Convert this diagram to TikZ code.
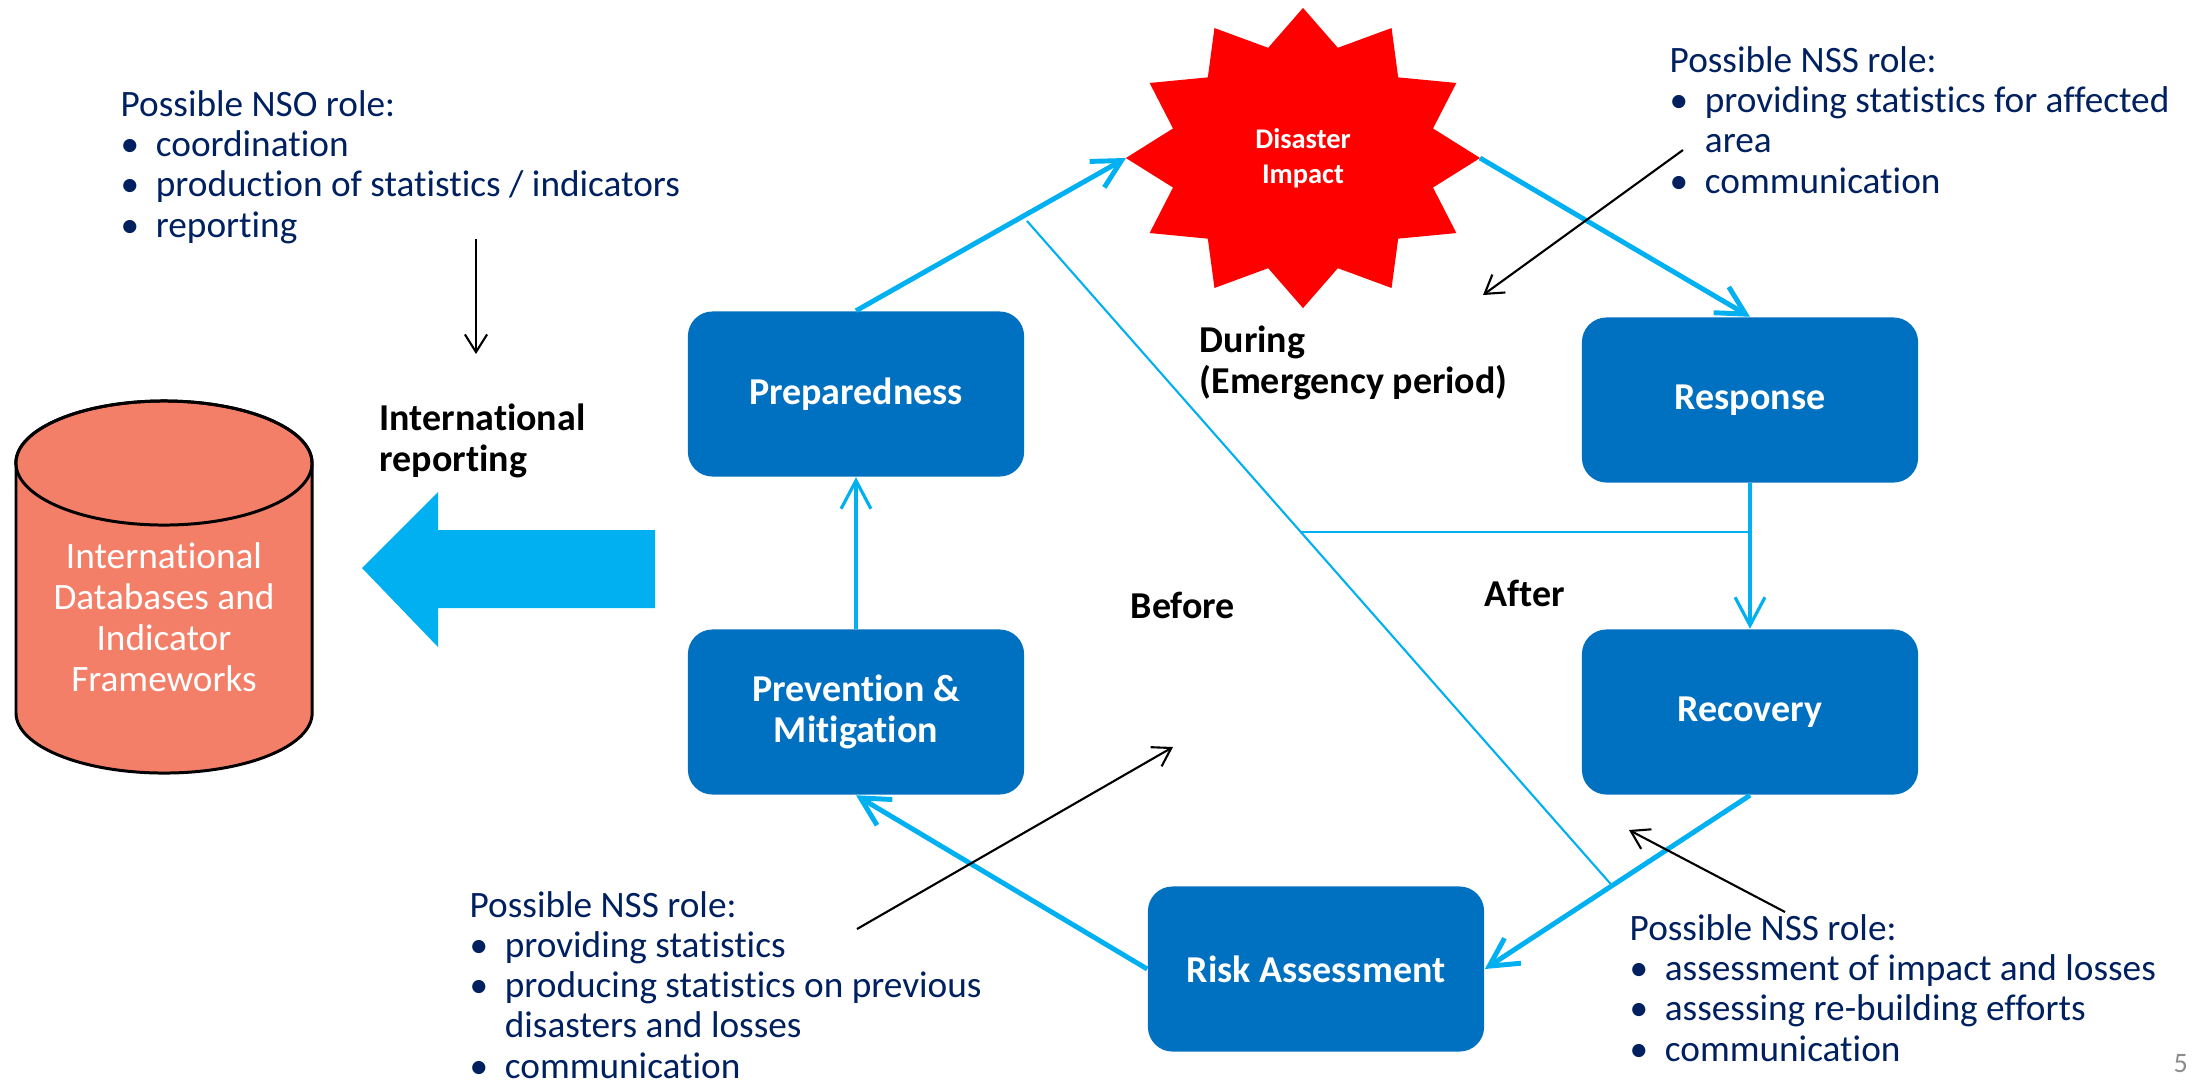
\documentclass[tikz,border=0pt]{standalone}
\usepackage{fontspec}
\setmainfont{Carlito}[Ligatures=NoCommon]
\usetikzlibrary{arrows.meta,calc,positioning}

\definecolor{navy}{HTML}{002060}
\definecolor{boxblue}{HTML}{0070C0}
\definecolor{cyc}{HTML}{00B0F0}
\definecolor{dbfill}{HTML}{F37F69}
\definecolor{pagegray}{HTML}{8C8C8C}

\newcommand{\blt}{\makebox[10pt][l]{\textbullet}}

\tikzset{
  stage/.style={rounded corners=7pt, fill=boxblue, text=white, align=center,
    font=\fontsize{10.8}{11.7}\selectfont\bfseries,
    minimum width=3.36cm, minimum height=1.65cm},
  role/.style={anchor=base west, align=left, inner sep=0pt, text=navy,
    font=\fontsize{10.6}{11.4}\selectfont},
  phase/.style={anchor=base west, align=left, inner sep=0pt,
    font=\fontsize{10.8}{11.4}\selectfont\bfseries},
  cycarrow/.style={cyc, line width=1.4pt, -{Straight Barb[length=8pt,width=8.5pt]}},
  cycthin/.style={cyc, line width=0.9pt, -{Straight Barb[length=8pt,width=8.5pt]}},
  divider/.style={cyc, line width=0.6pt},
  note/.style={black, line width=0.6pt, -{Straight Barb[length=5pt,width=6.3pt]}}
}

\begin{document}
\begin{tikzpicture}[x=0.01cm, y=-0.01cm]

\useasboundingbox (0,0) rectangle (2203,1084);

% cycle stages
\node[stage] (prep) at (856,394) {Preparedness};
\node[stage] (prev) at (856,712) {Prevention \&\\Mitigation};
\node[stage] (resp) at (1750,400) {Response};
\node[stage] (recov) at (1750,712) {Recovery};
\node[stage] (risk) at (1316,969) {Risk Assessment};

% disaster star
\coordinate (impact-c) at (1303,158);
\coordinate (impact-w) at (1126,158);
\coordinate (impact-e) at (1480,158);
\fill[red] ([shift={(impact-c)}]90:1.77cm and 1.5cm)
  \foreach \k [evaluate=\k as \f using {mod(\k,2)==0 ? 1 : 0.76}] in {1,...,23}
  { -- ([shift={(impact-c)}]{90+15*\k}:{1.77cm*\f} and {1.5cm*\f}) } -- cycle;
\node[text=white, align=center, font=\fontsize{8.1}{10}\selectfont\bfseries]
  (impact) at (impact-c) {Disaster\\Impact};

% cycle arrows
\draw[cycarrow] (prep.north) -- (impact-w);
\draw[cycarrow] (impact-e) -- (resp.north);
\draw[cycthin] (resp.south) -- (recov.north);
\draw[cycarrow] (recov.south) -- (risk.east);
\draw[cycarrow] (risk.west) -- (prev.south);
\draw[cycthin] (prev.north) -- (prep.south);

% before / during / after
\coordinate (div-top) at (1027,221);
\coordinate (div-bot) at ($(recov.south)!0.52!(risk.east)$);
\coordinate (div-mid) at ($(div-top)!0.468!(div-bot)$);
\draw[divider] (div-top) -- (div-bot);
\draw[divider, line width=0.8pt] (div-mid) -- (resp.south |- div-mid);

% base = last line
\node[phase] (during) at (1199,393) {During\\(Emergency period)};
\node[phase] (before) at (1130,618) {Before};
\node[phase] (after) at (1484,606) {After};

% database
\filldraw[fill=dbfill, draw=black, line width=0.85pt]
  (16,463) -- (16,713) arc[start angle=180, end angle=360, x radius=1.48cm, y radius=0.6cm]
  -- (312,463) arc[start angle=0, end angle=180, x radius=1.48cm, y radius=0.62cm] -- cycle;
\draw[black, line width=0.85pt] (164,463) ellipse[x radius=1.48cm, y radius=0.62cm];
\node[text=white, align=center, font=\fontsize{10.6}{11.7}\selectfont]
  (db) at (164,617) {International\\Databases and\\Indicator\\Frameworks};

\fill[cyc] (655,530) -- (438,530) -- (438,492) -- (362,568) -- (438,647)
  -- (438,608) -- (655,608) -- cycle;
\node[phase] (intrep) at (379,471) {International\\reporting};

% roles
\node[role] (nso) at (120,237) {Possible NSO role:\\
  \blt coordination\\
  \blt production of statistics / indicators\\
  \blt reporting};
\node[role] (nss-during) at (1669,193) {Possible NSS role:\\
  \blt providing statistics for affected\\
  \hspace*{10pt}area\\
  \blt communication};
\node[role] (nss-before) at (469,1078) {Possible NSS role:\\
  \blt providing statistics\\
  \blt producing statistics on previous\\
  \hspace*{10pt}disasters and losses\\
  \blt communication};
\node[role] (nss-after) at (1629,1061) {Possible NSS role:\\
  \blt assessment of impact and losses\\
  \blt assessing re-building efforts\\
  \blt communication};

\coordinate (nso-from) at (476,239);
\coordinate (nso-to) at (476,354);
\draw[note] (nso-from) -- (nso-to);
\coordinate (during-from) at (1683,150);
\coordinate (during-to) at (1483,295);
\draw[note] (during-from) -- (during-to);
\coordinate (before-from) at (857,929);
\coordinate (before-to) at (1173,747);
\draw[note] (before-from) -- (before-to);
\coordinate (after-from) at (1785,912);
\coordinate (after-to) at (1629,830);
\draw[note] (after-from) -- (after-to);

\node[anchor=base west, inner sep=0pt, text=pagegray, font=\fontsize{8}{9}\selectfont]
  (page) at (2173,1072) {5};

\end{tikzpicture}
\end{document}
